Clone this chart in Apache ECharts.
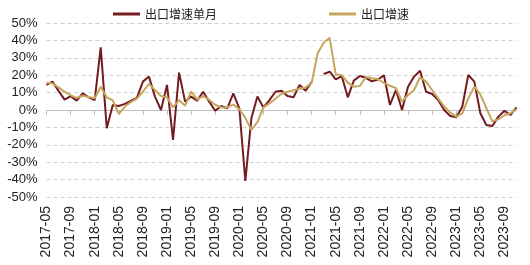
<!DOCTYPE html>
<html><head><meta charset="utf-8">
<script src="https://cdn.jsdelivr.net/npm/echarts@6/dist/echarts.min.js"></script>
<style>html,body{margin:0;padding:0;background:#fff}#c{width:530px;height:265px}</style>
</head><body><div id="c"></div>
<script>
// months 2017-05 .. 2023-11
const months = [];
for (let y = 2017, m = 5; y < 2023 || (y === 2023 && m <= 11); m++) {
  if (m > 12) { m = 1; y++; }
  months.push(y + '-' + String(m).padStart(2, '0'));
}
const seriesNames = ['出口增速单月', '出口增速'];
const exportMonthly = [14.4,16.3,11,6,8,5.4,9.6,7.3,5.7,36,-10.5,2.9,2.3,3.5,5.2,7,16.3,19.2,7.7,0,14.4,-17.2,21.5,4.8,7.7,5.4,10.5,4.8,-0.4,2.3,1,9.6,1,-40.8,-4.8,7.7,1.5,5.7,10.5,11.1,8,7.3,14.4,11.1,16,null,20.7,22,17.6,19.5,7.3,16.9,19.5,18.5,16.5,17.5,20,2.9,11.5,0,13.4,19.2,22.6,10.5,9.2,5.7,0,-3.4,-4.2,1.9,20.1,16.3,-1.9,-8.6,-9.2,-3.8,-0.4,-2.9,1.5];
const exportGrowth = [15.7,15.3,13,10.5,8.5,7,8.2,7.5,6.8,13.4,7.3,5.5,-2.2,2,4.5,6.5,10.5,15,11.5,8,7.3,1.5,5.7,2.5,10.5,6.1,8,5.8,3,1.5,1.5,3.2,0.5,-4.5,-11.5,-7,1.5,3.8,6.5,9.3,10.5,11.3,12.2,13,15.5,32.6,38.7,41.5,20.5,20,15.7,13.4,13.8,19,18.2,17.8,15.5,14,12.5,4.8,8.6,11.5,18.8,16.3,11.5,6.7,2,-1.5,-3.8,-1.9,6.7,13.4,9,1,-6.5,-5.4,-3,-1.9,0.4];
const yTicks = {min: -50, max: 50, interval: 10};

const chart = echarts.init(document.getElementById('c'), null, {renderer: 'canvas'});
chart.setOption({
  animation: false,
  backgroundColor: '#fff',
  textStyle: {fontFamily: 'Liberation Sans, Arial, sans-serif'},
  legend: {
    left: 108, top: 3, itemGap: 112, itemWidth: 27, itemHeight: 3, icon: 'rect',
    textStyle: {fontFamily: 'Noto Sans CJK SC', fontSize: 12, color: '#222'},
    data: seriesNames
  },
  grid: {left: 46.5, right: 13.5, top: 23, bottom: 68},
  xAxis: [{
    type: 'category', data: months, boundaryGap: false, position: 'bottom',
    axisLine: {onZero: true, lineStyle: {color: '#bfbfbf', width: 1}},
    axisTick: {show: true, interval: 3, length: 5, lineStyle: {color: '#bfbfbf'}},
    axisLabel: {show: false}, splitLine: {show: false}
  }, {
    type: 'category', data: months, boundaryGap: false, position: 'bottom',
    axisLine: {show: false, onZero: false}, axisTick: {show: false},
    axisLabel: {interval: 3, rotate: 90, margin: 9, fontSize: 14, color: '#222', fontFamily: 'Liberation Sans'},
    splitLine: {show: false}
  }],
  yAxis: {
    type: 'value', min: yTicks.min, max: yTicks.max, interval: yTicks.interval,
    axisLine: {show: false}, axisTick: {show: false},
    axisLabel: {formatter: '{value}%', fontSize: 13, color: '#222', margin: 9, fontFamily: 'Liberation Sans'},
    splitLine: {lineStyle: {color: '#cfcfcf', type: [4, 3], width: 1}}
  },
  series: [{
    name: seriesNames[0], type: 'line', data: exportMonthly, xAxisIndex: 0,
    showSymbol: false, symbol: 'none', connectNulls: false,
    lineStyle: {color: '#741b1f', width: 2}, itemStyle: {color: '#741b1f'}
  }, {
    name: seriesNames[1], type: 'line', data: exportGrowth, xAxisIndex: 0,
    showSymbol: false, symbol: 'none',
    lineStyle: {color: '#c7a55c', width: 2}, itemStyle: {color: '#c7a55c'}
  }]
});
</script></body></html>
